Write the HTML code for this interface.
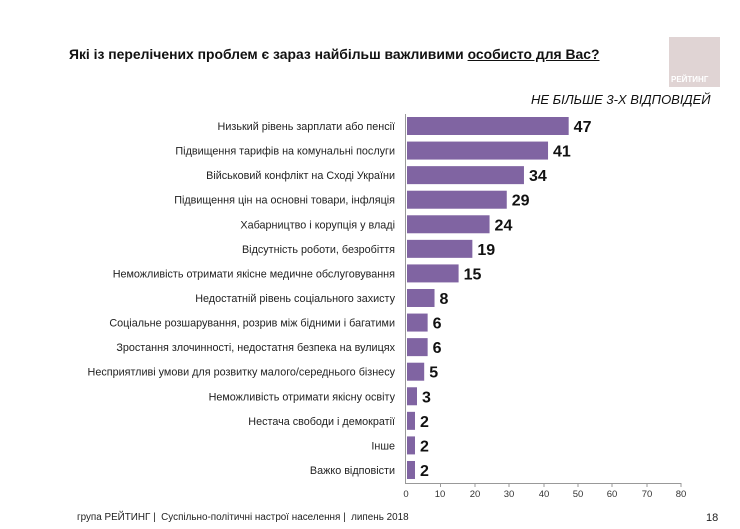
<!DOCTYPE html>
<html><head><meta charset="utf-8"><style>
body{margin:0;width:740px;height:529px;background:#fff;position:relative;overflow:hidden;font-family:"Liberation Sans",sans-serif}
.t{position:absolute;white-space:nowrap}
</style></head><body>
<div class="t" style="left:69px;top:46px;font-size:13.9px;font-weight:bold;color:#111">Які із перелічених проблем є зараз найбільш важливими <u>особисто для Вас?</u></div>
<div style="position:absolute;left:669px;top:37px;width:51px;height:50px;background:#e0d4d4"></div>
<div class="t" style="left:671px;top:75px;font-size:8px;font-weight:bold;color:#fff">РЕЙТИНГ</div>
<div class="t" style="left:531px;top:92px;font-size:13px;font-style:italic;color:#111">НЕ БІЛЬШЕ 3-Х ВІДПОВІДЕЙ</div>
<svg width="740" height="529" style="position:absolute;left:0;top:0" font-family="Liberation Sans, sans-serif">
<line x1="405.5" y1="114" x2="405.5" y2="483" stroke="#999"/>
<line x1="405" y1="483.5" x2="681" y2="483.5" stroke="#999"/>
<g id="bars"></g>
<g font-size="9.5" fill="#333" text-anchor="middle">
<text x="406" y="497">0</text><text x="440" y="497">10</text><text x="475" y="497">20</text><text x="509" y="497">30</text><text x="544" y="497">40</text><text x="578" y="497">50</text><text x="612" y="497">60</text><text x="647" y="497">70</text><text x="681" y="497">80</text>
</g>
<g stroke="#999">
<line x1="440.5" y1="483" x2="440.5" y2="487"/><line x1="475" y1="483" x2="475" y2="487"/><line x1="509" y1="483" x2="509" y2="487"/><line x1="544" y1="483" x2="544" y2="487"/><line x1="578" y1="483" x2="578" y2="487"/><line x1="612" y1="483" x2="612" y2="487"/><line x1="647" y1="483" x2="647" y2="487"/><line x1="681" y1="483" x2="681" y2="487"/>
</g>
</svg>
<div class="t" style="left:77px;top:512px;font-size:9.9px;color:#222">група РЕЙТИНГ | &nbsp;Суспільно-політичні настрої населення | &nbsp;липень 2018</div>
<div class="t" style="left:706px;top:512px;font-size:11px;color:#222">18</div>
<script>
var d=[["Низький рівень зарплати або пенсії",47],["Підвищення тарифів на комунальні послуги",41],["Військовий конфлікт на Сході України",34],["Підвищення цін на основні товари, інфляція",29],["Хабарництво і корупція у владі",24],["Відсутність роботи, безробіття",19],["Неможливість отримати якісне медичне обслуговування",15],["Недостатній рівень соціального захисту",8],["Соціальне розшарування, розрив між бідними і багатими",6],["Зростання злочинності, недостатня безпека на вулицях",6],["Несприятливі умови для розвитку малого/середнього бізнесу",5],["Неможливість отримати якісну освіту",3],["Нестача свободи і демократії",2],["Інше",2],["Важко відповісти",2]];
var g=document.getElementById('bars'),s='';
d.forEach(function(r,i){var c=126+i*24.57,w=r[1]*3.44;if(r[1]==2)w=8;if(r[1]==3)w=10;
s+='<rect x="407" y="'+(c-9)+'" width="'+w+'" height="18" fill="#8064a2"/>';
s+='<text x="395" y="'+(c+4)+'" font-size="10.8" fill="#222" text-anchor="end">'+r[0]+'</text>';
s+='<text x="'+(407+w+5)+'" y="'+(c+6)+'" font-size="16" font-weight="bold" fill="#111">'+r[1]+'</text>';});
g.innerHTML=s;
</script>
</body></html>
